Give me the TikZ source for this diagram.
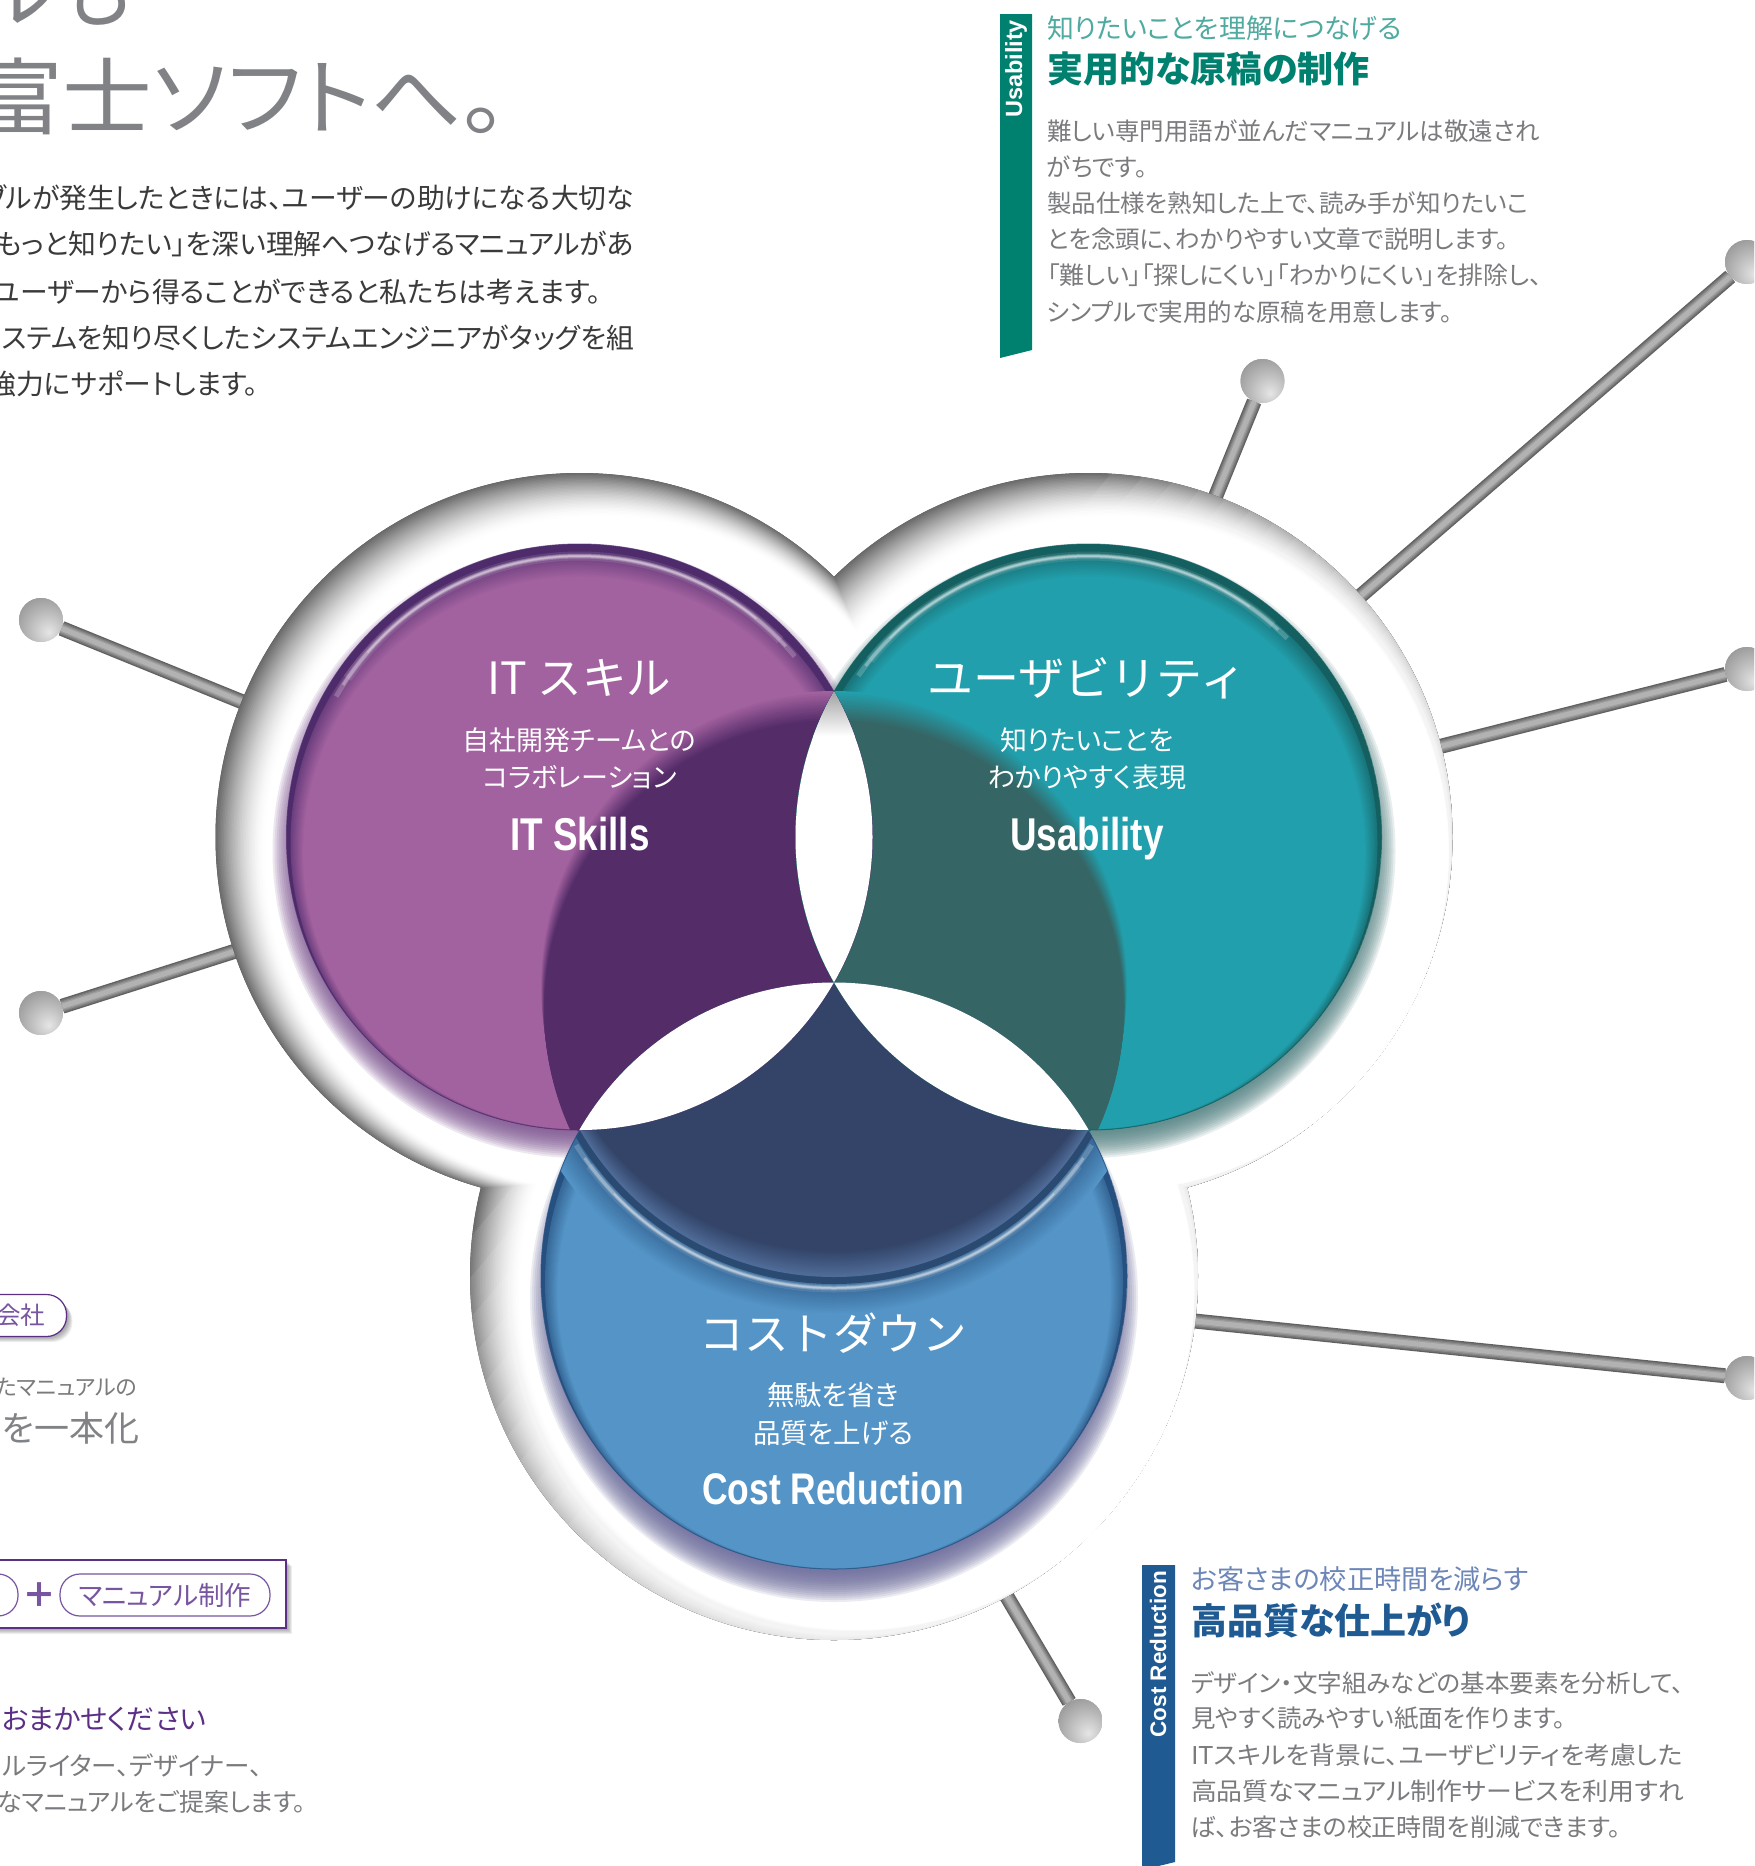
\documentclass[tikz,border=0pt]{standalone}
\usepackage{fontspec}
\usetikzlibrary{calc}
\setmainfont{Noto Sans CJK JP}[RawFeature=+palt]
\newfontfamily\flatjp{Noto Sans CJK JP}
\newfontfamily\condb{Liberation Sans}[FakeStretch=0.8]
\newfontfamily\barb{Liberation Sans}
\newcommand{\fs}[1]{\fontsize{#1pt}{#1pt}\selectfont}
\definecolor{itbase}{HTML}{A2619F}
\definecolor{itdark}{HTML}{4E2C6C}
\definecolor{itlobe}{HTML}{532C68}
\definecolor{itshadow}{HTML}{7A4F8E}
\definecolor{usbase}{HTML}{229FAC}
\definecolor{usdark}{HTML}{145F60}
\definecolor{uslobe}{HTML}{356565}
\definecolor{usshadow}{HTML}{4F7F80}
\definecolor{cobase}{HTML}{5494C6}
\definecolor{codark}{HTML}{26507F}
\definecolor{colobe}{HTML}{334468}
\definecolor{coband}{HTML}{2B4A72}
\definecolor{coedge}{HTML}{4F6C98}
\definecolor{coshadow}{HTML}{6A6A9C}
\definecolor{headgrey}{HTML}{808285}
\definecolor{bodygrey}{HTML}{7A7B7E}
\definecolor{bodydark}{HTML}{3A3A3C}
\definecolor{teal}{HTML}{00806F}
\definecolor{teallight}{HTML}{4FAAA0}
\definecolor{navyblue}{HTML}{1F5A92}
\definecolor{bluelight}{HTML}{6C86B8}
\definecolor{purp}{HTML}{5B2F86}
\definecolor{purpl}{HTML}{7755A0}
\pgfdeclareradialshading{lollipop}{\pgfpoint{9bp}{-14bp}}{rgb(0bp)=(.90,.90,.90);rgb(22bp)=(.72,.72,.72);rgb(50bp)=(.50,.50,.50);rgb(70bp)=(.40,.40,.40);rgb(100bp)=(.40,.40,.40)}
\newcommand{\glassdisc}[3]{%
  \fill[#3] (#1) circle[radius=293pt];
  \foreach \k in {0,...,14}{%
    \pgfmathsetmacro\p{35+\k*65/14}
    \colorlet{tmpc}{#2!\p!#3}
    \fill[tmpc] ($(#1)+(0,{6+\k*.7})$) circle[radius={(289-\k*.9)*1pt}];
  }%
}
\newcommand{\glint}[4]{% centre, radius, mid angle, largest half-span
  \foreach \f/\w/\o in {.92/9/.1,1/5/.2,.95/3/.28,.8/1.5/.3}{%
    \begin{scope}
      \clip (#1) -- ($(#1)+({#3-#4*\f}:520pt)$) -- ($(#1)+(#3:800pt)$) -- ($(#1)+({#3+#4*\f}:520pt)$) -- cycle;
      \draw[white,opacity=\o,line width=\w pt] (#1) circle[radius=#2];
    \end{scope}
  }%
}
\newcommand{\lobe}[3]{%
  \foreach \k in {0,...,13}{%
    \pgfmathsetmacro\p{\k*100/13}
    \colorlet{tmpc}{#3!\p!#2}
    \fill[tmpc] ($(cLobe)+(0,{\k*2})$) circle[radius={(293-\k*.25)*1pt}];
  }%
}
\tikzset{
  x=1pt,y=-1pt,
  txt/.style={inner sep=0pt,outer sep=0pt},
  ballnode/.style={circle,inner sep=0pt,minimum size=44pt,shading=lollipop},
  pillnode/.style={draw=purpl,line width=1.2pt,rounded corners=20pt,inner sep=0pt,minimum height=42pt,fill=white},
  barlabel/.style={txt,rotate=90,anchor=east,text=white,font=\barb\bfseries\fs{22.5}},
}
\begin{document}
\begin{tikzpicture}
\useasboundingbox (0,0) rectangle (1754,1866);
\fill[white] (0,0) rectangle (1754,1866);
\clip (0,0) rectangle (1754,1866);

\coordinate (cIT) at (579.5,837);
\coordinate (cUS) at (1088.5,837);
\coordinate (cCO) at (834,1276);
\coordinate (cLobe) at (834,984);

% lollipops
\node[ballnode] (b1) at (1262.5,381) {};
\node[ballnode] (b2) at (1747,262) {};
\node[ballnode] (b3) at (1747,669) {};
\node[ballnode] (b4) at (1747,1378) {};
\node[ballnode] (b5) at (1080.5,1721) {};
\node[ballnode] (b6) at (41,620) {};
\node[ballnode] (b7) at (41,1013) {};
\coordinate (f1) at (1210,510);
\coordinate (f2) at (1350,605);
\coordinate (f3) at (1430,749);
\coordinate (f4) at (1185,1320);
\coordinate (f5) at (1003,1590);
\coordinate (f6) at (255,707);
\coordinate (f7) at (245,948);
\foreach \n in {1,...,7}{%
  \draw[line width=15pt,black!62] (f\n) -- (b\n);
  \foreach \j/\w/\g in {1/12.5/54,2/10/46,3/7.5/38,4/5/30}{%
    \draw[line width=\w pt,black!\g,shift={(\j*.45,\j*.75)}] (f\n) -- (b\n);
  }%
}
\foreach \n in {1,...,7}{\node[ballnode] at (b\n) {};}

% raised white plate with inner shadow
\begin{scope}
  \clip (cIT) circle[radius=364pt] (cUS) circle[radius=364pt] (cCO) circle[radius=364pt];
  \fill[black!60] (0,0) rectangle (1754,1866);
  \foreach \k in {0,...,32}{%
    \pgfmathsetmacro\gg{1-.6*(1-\k/32)^1.6}
    \definecolor{hc}{gray}{\gg}
    \fill[hc]
      ($(cIT)+({\k*.7},{\k*.5})$) circle[radius={(365-\k*.86)*1pt}]
      ($(cUS)+({\k*.7},{\k*.5})$) circle[radius={(365-\k*.86)*1pt}]
      ($(cCO)+({\k*.7},{\k*.5})$) circle[radius={(365-\k*.86)*1pt}];
  }%
  \foreach \j in {1,...,24}{%
    \fill[white,opacity=.09,shift={(834,950)},rotate=-40] ({-120+\j*26},-1600) rectangle (1800,1600);
  }%
\end{scope}

% soft shadows below the discs
\foreach \c/\col/\off/\rr in {cIT/itshadow/14/14,cUS/usshadow/14/14,cCO/coshadow/22/11}{%
  \foreach \k in {0,...,15}{%
    \fill[\col,opacity=.13] ($(\c)+(0,\off)$) circle[radius={(293+\rr-\k*2)*1pt}];
  }%
}

% IT Skills disc
\begin{scope}
  \clip (cIT) circle[radius=293pt];
  \glassdisc{cIT}{itbase}{itdark}
  \glint{cIT}{281pt}{95}{55}
  \lobe{cIT}{itbase}{itlobe}
\end{scope}
% Usability disc
\begin{scope}
  \clip (cUS) circle[radius=293pt];
  \glassdisc{cUS}{usbase}{usdark}
  \glint{cUS}{281pt}{95}{50}
  \lobe{cUS}{usbase}{uslobe}
\end{scope}
% Cost Reduction disc
\begin{scope}
  \clip (cCO) circle[radius=293pt];
  \glassdisc{cCO}{cobase}{codark}
  \foreach \k in {0,...,13}{%
    \pgfmathsetmacro\p{100-\k*60/13}
    \colorlet{tmpc}{cobase!\p!codark}
    \fill[tmpc] (cLobe) circle[radius={(293+38-\k*2)*1pt}];
  }%
  \glint{cLobe}{304pt}{-90}{58}
  \fill[coband] (cLobe) circle[radius=300pt];
  \fill[coedge] (cLobe) circle[radius=293pt];
  \foreach \k in {1,...,14}{%
    \pgfmathsetmacro\p{\k*100/14}
    \colorlet{tmpc}{colobe!\p!coedge}
    \fill[tmpc] ($(cLobe)+(0,{-\k*1.8})$) circle[radius=293pt];
  }%
\end{scope}

% thin rims
\foreach \c/\col in {cIT/itdark,cUS/usdark,cCO/codark}{%
  \draw[\col,line width=1pt,opacity=.7] (\c) circle[radius=293pt];
}

% white lenses where two discs overlap
\begin{scope}
  \clip (cIT) circle[radius=293pt];
  \fill[white] (cCO) circle[radius=293.5pt];
  \clip (cUS) circle[radius=293pt];
  \fill[white] (700,600) rectangle (950,1100);
  \shade[top color=black!38,bottom color=white] (700,690) rectangle (950,736);
\end{scope}
\begin{scope}
  \clip (cUS) circle[radius=293pt];
  \fill[white] (cCO) circle[radius=293.5pt];
\end{scope}

% disc texts
\node[txt,text=white,font=\flatjp\fs{44.5}] (t1) at (579.5,678) {IT スキル};
\node[txt,text=white,font=\fs{27}] (t2) at (579.5,740) {自社開発チームとの};
\node[txt,text=white,font=\fs{27}] (t3) at (579.5,777) {コラボレーション};
\node[txt,anchor=base,text=white,font=\condb\bfseries\fs{46}] (t4) at (580,850) {IT Skills};
\node[txt,text=white,font=\flatjp\fs{46}] (u1) at (1087,678) {ユーザビリティ};
\node[txt,text=white,font=\fs{27}] (u2) at (1087,740) {知りたいことを};
\node[txt,text=white,font=\fs{27}] (u3) at (1087,777) {わかりやすく表現};
\node[txt,anchor=base,text=white,font=\condb\bfseries\fs{46}] (u4) at (1087,850) {Usability};
\node[txt,text=white,font=\flatjp\fs{44.5}] (c1) at (833,1333) {コストダウン};
\node[txt,text=white,font=\fs{27.5}] (c2) at (833,1395) {無駄を省き};
\node[txt,text=white,font=\fs{27.5}] (c3) at (833,1433) {品質を上げる};
\node[txt,anchor=base,text=white,font=\condb\bfseries\fs{44.3}] (c4) at (833,1504) {Cost Reduction};

% top left copy
\node[txt,anchor=east,text=headgrey,font=\fs{84}] (h1) at (132,-10) {ルも};
\node[txt,anchor=west,text=headgrey,font=\fs{84}] (h2) at (-27,97) {\scalebox{1.07}[1]{富士ソフトへ。}};
\foreach \nm/\yy/\xx/\ttt in {
  l1/197.5/634/{ブルが発生したときには、ユーザーの助けになる大切な},
  l2/244/634/{もっと知りたい」を深い理解へつなげるマニュアルがあ},
  l3/291.5/601/{ユーザーから得ることができると私たちは考えます。},
  l4/338/634/{ステムを知り尽くしたシステムエンジニアがタッグを組},
  l5/384/258/{強力にサポートします。}}{%
  \node[txt,anchor=east,text=bodydark,font=\fs{27.8}] (\nm) at (\xx,\yy) {\ttt};
}

% usability panel
\fill[teal] (1000,14) -- (1032,14) -- (1032,350) -- (1000,358) -- cycle;
\node[barlabel,font=\barb\bfseries\fs{23.5}] (ub) at (1016,20) {Usability};
\node[txt,anchor=west,text=teallight,font=\fs{26.9}] (ua) at (1047,28) {知りたいことを理解につなげる};
\node[txt,anchor=west,text=teal,font=\bfseries\fs{36}] (uh) at (1047,69) {実用的な原稿の制作};
\foreach \nm/\yy/\sx/\ttt in {
  ux1/131/1/{難しい専門用語が並んだマニュアルは敬遠され},
  ux2/167/1/{がちです。},
  ux3/203.5/1/{製品仕様を熟知した上で、読み手が知りたいこ},
  ux4/239/1/{とを念頭に、わかりやすい文章で説明します。},
  ux5/275/1.017/{「難しい」「探しにくい」「わかりにくい」を排除し、},
  ux6/312/1/{シンプルで実用的な原稿を用意します。}}{%
  \node[txt,anchor=west,text=bodygrey,font=\fs{24.5}] (\nm) at (1047,\yy) {\scalebox{\sx}[1]{\ttt}};
}

% cost panel
\fill[navyblue] (1142,1565) -- (1175,1565) -- (1175,1862) -- (1142,1870) -- cycle;
\node[barlabel] (cb) at (1158,1571) {Cost Reduction};
\node[txt,anchor=west,text=bluelight,font=\fs{27.2}] (ca) at (1191,1579) {お客さまの校正時間を減らす};
\node[txt,anchor=west,text=navyblue,font=\bfseries\fs{36}] (ch) at (1191,1620) {高品質な仕上がり};
\foreach \nm/\yy/\sx/\ttt in {
  cx1/1683/1/{デザイン・文字組みなどの基本要素を分析して、},
  cx2/1718/1/{見やすく読みやすい紙面を作ります。},
  cx3/1755/1.056/{ITスキルを背景に、ユーザビリティを考慮した},
  cx4/1791/1.056/{高品質なマニュアル制作サービスを利用すれ},
  cx5/1827/1.02/{ば、お客さまの校正時間を削減できます。}}{%
  \node[txt,anchor=west,text=bodygrey,font=\fs{24.5}] (\nm) at (1191,\yy) {\scalebox{\sx}[1]{\ttt}};
}

% lower left copy
\foreach \k in {1,...,6}{%
  \fill[black,opacity=.07,rounded corners=20pt] ({-60+\k},{1295+\k}) rectangle ({66.5+\k},{1336+\k});
  \fill[black,opacity=.07] ({-10+\k},{1560+\k}) rectangle ({286+\k},{1628+\k});
}
\node[pillnode,draw=purp,minimum width=126pt] (p0) at (3.5,1315.5) {};
\node[txt,anchor=east,text=purpl,font=\fs{24.5}] (p0t) at (45,1315) {会社};
\node[txt,anchor=east,text=bodygrey,font=\fs{22}] (m1) at (137,1387.5) {たマニュアルの};
\node[txt,anchor=east,text=headgrey,font=\fs{35}] (m2) at (139,1428) {を一本化};
\node[draw=purp,line width=1.2pt,fill=white,inner sep=0pt,minimum width=296pt,minimum height=68pt] (bx) at (138,1594) {};
\node[pillnode,minimum width=118pt] (p1) at (-41,1595) {};
\node[pillnode,minimum width=210pt,text=purpl,font=\fs{26.5}] (p2) at (165,1595) {マニュアル制作};
\node[txt,text=purpl,font=\flatjp\bfseries\fs{34}] (plus) at (39,1595) {＋};
\node[txt,anchor=east,text=purp,font=\fs{27.8}] (s1) at (206,1719) {おまかせください};
\node[txt,anchor=east,text=bodygrey,font=\fs{25.5}] (s2) at (262,1765) {ルライター、デザイナー、};
\node[txt,anchor=east,text=bodygrey,font=\fs{25}] (s3) at (306,1802) {なマニュアルをご提案します。};
\end{tikzpicture}
\end{document}
